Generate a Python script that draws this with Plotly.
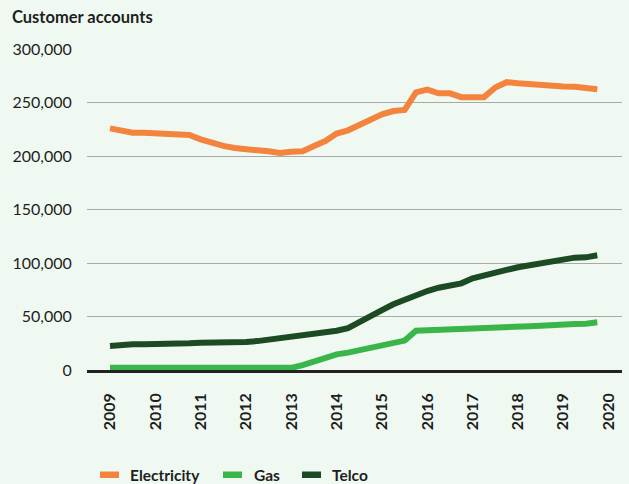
import plotly.graph_objects as go

# Quarterly observations, 2009 Q1 to 2019 Q4
quarters = [
    "2009-Q1", "2009-Q2", "2009-Q3", "2009-Q4",
    "2010-Q1", "2010-Q2", "2010-Q3", "2010-Q4",
    "2011-Q1", "2011-Q2", "2011-Q3", "2011-Q4",
    "2012-Q1", "2012-Q2", "2012-Q3", "2012-Q4",
    "2013-Q1", "2013-Q2", "2013-Q3", "2013-Q4",
    "2014-Q1", "2014-Q2", "2014-Q3", "2014-Q4",
    "2015-Q1", "2015-Q2", "2015-Q3", "2015-Q4",
    "2016-Q1", "2016-Q2", "2016-Q3", "2016-Q4",
    "2017-Q1", "2017-Q2", "2017-Q3", "2017-Q4",
    "2018-Q1", "2018-Q2", "2018-Q3", "2018-Q4",
    "2019-Q1", "2019-Q2", "2019-Q3", "2019-Q4",
]

electricity = [
    225800, 223700, 221800, 221800,
    221500, 220600, 220200, 219600,
    215600, 211900, 209400, 207500,
    205900, 205300, 204400, 202800,
    204000, 204500, 209400, 214000,
    221000, 224000, 229000, 234000,
    239000, 242000, 243000, 259500,
    262000, 258600, 258600, 255000,
    255000, 255000, 264000, 269000,
    268000, 267000, 266000, 265700,
    265000, 264800, 263800, 262300,
]

gas = [
    2000, 2000, 2000, 2000,
    2000, 2000, 2000, 2000,
    2000, 2000, 2000, 2000,
    2000, 2000, 2000, 2000,
    2000, 4500, 8000, 11500,
    14600, 16200, 18500, 21500,
    23000, 25000, 27500, 36700,
    37000, 38000, 39000, 39000,
    39000, 39000, 40000, 40000,
    40500, 41000, 41400, 42400,
    43000, 43000, 43300, 44600,
]

telco = [
    22400, 23500, 24000, 24000,
    24000, 24200, 24500, 25000,
    25500, 25500, 25800, 26000,
    26200, 27000, 28300, 29600,
    31000, 32700, 34000, 35500,
    36700, 39000, 44200, 50500,
    56000, 61400, 66000, 69800,
    73800, 76900, 79400, 81000,
    85700, 87900, 91000, 93500,
    96000, 98000, 99400, 101600,
    104000, 105000, 105300, 107200,
]

year_ticks = [2009, 2010, 2011, 2012, 2013, 2014, 2015, 2016, 2017, 2018, 2019, 2020]
y_ticks = [0, 50000, 100000, 150000, 200000, 250000, 300000]

series_names = ["Electricity", "Gas", "Telco"]
series_colors = ["#F2843E", "#3AB54A", "#1C4B23"]

# Quarter label -> decimal year position on the x axis
def quarter_pos(label):
    year, q = label.split("-Q")
    return int(year) + (int(q) - 1) / 4

x_vals = [quarter_pos(q) for q in quarters]

W, H = 629, 484
M_L, M_R, M_T, M_B = 87, 7, 49, 114
PLOT_W = W - M_L - M_R
PLOT_H = H - M_T - M_B
PX_PER_YEAR = 45.33
X_START = 2009 - 23 / PX_PER_YEAR

FONT = "Lato, 'Open Sans', sans-serif"
TEXT = "#1E1E1E"
BG = "#F0F9F1"

fig = go.Figure()
for name, color, values in zip(series_names, series_colors, [electricity, gas, telco]):
    fig.add_trace(go.Scatter(
        x=x_vals, y=values, name=name, mode="lines",
        line=dict(color=color, width=6),
        showlegend=False,
    ))

# Pixel helpers for legend placement
def px_x(p):
    return (p - M_L) / PLOT_W

def px_y(p):
    return (H - M_B - p) / PLOT_H

shapes = []
annotations = []
legend_items = [(100, 128), (223, 252), (302, 330)]
for (sx, tx), name, color in zip(legend_items, series_names, series_colors):
    shapes.append(dict(
        type="rect", xref="paper", yref="paper",
        x0=px_x(sx), x1=px_x(sx + 19), y0=px_y(478), y1=px_y(471.5),
        fillcolor=color, line=dict(width=0),
    ))
    annotations.append(dict(
        text=name, xref="paper", yref="paper",
        x=px_x(tx), y=px_y(475), xanchor="left", yanchor="middle",
        showarrow=False,
        font=dict(family=FONT, size=15.5, color=TEXT, weight="bold"),
    ))

fig.update_layout(
    width=W, height=H,
    margin=dict(l=M_L, r=M_R, t=M_T, b=M_B),
    paper_bgcolor=BG, plot_bgcolor=BG,
    title=dict(
        text="<b>Customer accounts</b>",
        x=12 / W, xref="container", xanchor="left",
        y=1 - 17 / H, yref="container", yanchor="middle",
        font=dict(family=FONT, size=16.5, color=TEXT),
    ),
    shapes=shapes,
    annotations=annotations,
    xaxis=dict(
        range=[X_START, X_START + PLOT_W / PX_PER_YEAR],
        tickmode="array", tickvals=year_ticks, ticktext=[str(y) for y in year_ticks],
        tickangle=-90, ticks="outside", ticklen=14, tickcolor="rgba(0,0,0,0)",
        tickfont=dict(family=FONT, size=16, color=TEXT, weight="bold"),
        showgrid=False, zeroline=False,
        showline=True, linecolor="#222222", linewidth=2.5,
    ),
    yaxis=dict(
        range=[0, 300000],
        tickmode="array", tickvals=y_ticks,
        ticktext=[f"{v:,}" for v in y_ticks],
        ticks="outside", ticklen=11, tickcolor="rgba(0,0,0,0)",
        tickfont=dict(family=FONT, size=16, color=TEXT),
        showgrid=True, gridcolor="#A9A9A9", gridwidth=1,
        zeroline=False, showline=False,
    ),
)

fig.write_html("out.html")
